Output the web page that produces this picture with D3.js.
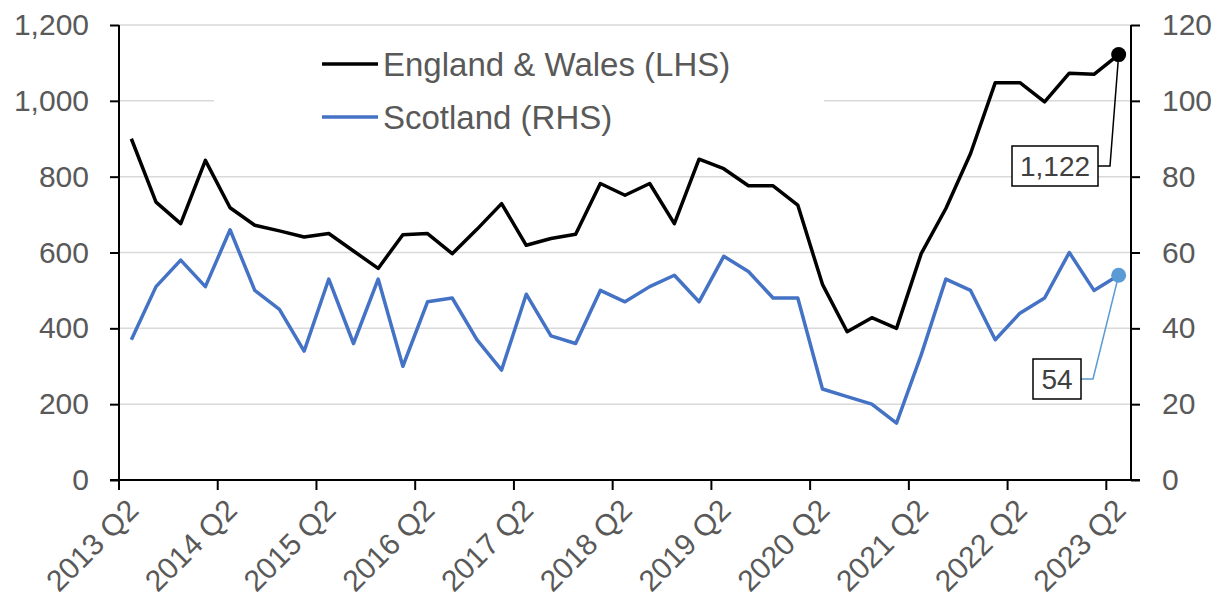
<!DOCTYPE html>
<html>
<head>
<meta charset="utf-8">
<script src="https://cdn.jsdelivr.net/npm/d3@7"></script>
<style>
body{margin:0;background:#fff;}
text{font-family:"Liberation Sans",Arial,sans-serif;}
</style>
</head>
<body>
<svg id="chart" width="1221" height="599"></svg>
<script>
// quarterly categories
var quarters = ["2013 Q2","2013 Q3","2013 Q4","2014 Q1","2014 Q2","2014 Q3","2014 Q4","2015 Q1",
  "2015 Q2","2015 Q3","2015 Q4","2016 Q1","2016 Q2","2016 Q3","2016 Q4","2017 Q1",
  "2017 Q2","2017 Q3","2017 Q4","2018 Q1","2018 Q2","2018 Q3","2018 Q4","2019 Q1",
  "2019 Q2","2019 Q3","2019 Q4","2020 Q1","2020 Q2","2020 Q3","2020 Q4","2021 Q1",
  "2021 Q2","2021 Q3","2021 Q4","2022 Q1","2022 Q2","2022 Q3","2022 Q4","2023 Q1","2023 Q2"];
var englandWales = [900,733,676,843,718,672,657,641,650,604,558,647,650,597,661,729,619,637,648,782,
  751,782,676,846,821,776,776,725,516,391,428,400,597,716,861,1048,1048,997,1073,1070,1122];
var scotland = [37,51,58,51,66,50,45,34,53,36,53,30,47,48,37,29,49,38,36,50,
  47,51,54,47,59,55,48,48,24,22,20,15,33,53,50,37,44,48,60,50,54];
var xLabels = ["2013 Q2","2014 Q2","2015 Q2","2016 Q2","2017 Q2","2018 Q2","2019 Q2",
  "2020 Q2","2021 Q2","2022 Q2","2023 Q2"];
var leftTicks = [0,200,400,600,800,1000,1200];
var rightTicks = [0,20,40,60,80,100,120];
var seriesNames = ["England & Wales (LHS)","Scotland (RHS)"];

function drawChart(){
  var svg = d3.select("#chart");
  var mLeft = 119, mRight = 1131, mTop = 25, mBottom = 480;
  var textCol = "#595959", gridCol = "#d9d9d9", blue = "#4472c4";

  var x = d3.scaleBand().domain(quarters).range([mLeft, mRight]).padding(0);
  var bw = x.bandwidth();
  var cx = function(q){ return x(q) + bw / 2; };
  var yL = d3.scaleLinear().domain([0, 1200]).range([mBottom, mTop]);
  var yR = d3.scaleLinear().domain([0, 120]).range([mBottom, mTop]);

  // gridlines
  svg.append("g").selectAll("line")
    .data(leftTicks.filter(function(d){ return d > 0; }))
    .enter().append("line")
    .attr("x1", mLeft).attr("x2", mRight)
    .attr("y1", function(d){ return yL(d); })
    .attr("y2", function(d){ return yL(d); })
    .attr("stroke", gridCol).attr("stroke-width", 1.5);

  // legend background (covers gridlines)
  svg.append("rect").attr("x", 214).attr("y", 34).attr("width", 610).attr("height", 116)
    .attr("fill", "#fff");

  var axL = svg.append("g").attr("transform", "translate(" + mLeft + ",0)")
    .call(d3.axisLeft(yL).tickValues(leftTicks).tickSize(9).tickPadding(21).tickFormat(d3.format(",")));
  var axR = svg.append("g").attr("transform", "translate(" + mRight + ",0)")
    .call(d3.axisRight(yR).tickValues(rightTicks).tickSize(9).tickPadding(22));
  var axB = svg.append("g").attr("transform", "translate(0," + mBottom + ")")
    .call(d3.axisBottom(x).tickValues(xLabels).tickSize(10).tickSizeOuter(0));
  axB.selectAll(".tick line").attr("x1", -bw / 2).attr("x2", -bw / 2);
  axB.selectAll(".tick text")
    .attr("text-anchor", "end")
    .attr("transform", "translate(-6,17) rotate(-45)")
    .attr("y", 0).attr("dy", "0.7em");

  [axL, axR, axB].forEach(function(a){
    a.select(".domain").attr("stroke", "#000").attr("stroke-width", 2);
    a.selectAll(".tick line").attr("stroke", "#000").attr("stroke-width", 2);
    a.selectAll(".tick text").attr("fill", textCol).style("font-size", "30px")
      .style("font-family", "'Liberation Sans', Arial, sans-serif");
  });
  axL.select(".domain").attr("d", "M0," + mTop + "V" + mBottom);
  axR.select(".domain").attr("d", "M0," + mTop + "V" + mBottom);
  axB.select(".domain").attr("d", "M" + (mLeft - 9) + ",0H" + (mRight + 9));

  // lines
  var lineL = d3.line().x(function(d, i){ return cx(quarters[i]); }).y(function(d){ return yL(d); });
  var lineR = d3.line().x(function(d, i){ return cx(quarters[i]); }).y(function(d){ return yR(d); });

  svg.append("path").datum(scotland).attr("d", lineR)
    .attr("fill", "none").attr("stroke", blue).attr("stroke-width", 3.5).attr("stroke-linejoin", "round");
  svg.append("path").datum(englandWales).attr("d", lineL)
    .attr("fill", "none").attr("stroke", "#000").attr("stroke-width", 3.5).attr("stroke-linejoin", "round");

  // last point callouts
  var last = quarters.length - 1;
  var px = cx(quarters[last]);
  var pyE = yL(englandWales[last]), pyS = yR(scotland[last]);

  function callout(py, boxX, boxY, boxW, boxH, txt, col, dotCol){
    var midY = boxY + boxH / 2;
    svg.append("path")
      .attr("d", "M" + (boxX + boxW) + "," + midY + "H" + (boxX + boxW + 12) + "L" + px + "," + py)
      .attr("fill", "none").attr("stroke", col).attr("stroke-width", 1.5);
    svg.append("rect").attr("x", boxX).attr("y", boxY).attr("width", boxW).attr("height", boxH)
      .attr("fill", "#fff").attr("stroke", "#000").attr("stroke-width", 1.5);
    svg.append("text").attr("x", boxX + boxW / 2).attr("y", midY).attr("dy", "0.35em")
      .attr("text-anchor", "middle").attr("fill", "#404040").style("font-size", "28px").text(txt);
    svg.append("circle").attr("cx", px).attr("cy", py).attr("r", 7.5).attr("fill", dotCol);
  }
  callout(pyE, 1012, 146, 86, 40, d3.format(",")(englandWales[last]), "#000", "#000");
  callout(pyS, 1033, 359, 48, 40, scotland[last], "#5b9bd5", "#5b9bd5");

  // legend
  var leg = svg.append("g");
  [["#000", 64], [blue, 117]].forEach(function(s, i){
    leg.append("line").attr("x1", 322).attr("x2", 378).attr("y1", s[1]).attr("y2", s[1])
      .attr("stroke", s[0]).attr("stroke-width", 3.5);
    leg.append("text").attr("x", 383).attr("y", s[1]).attr("dy", "0.35em")
      .attr("fill", textCol).style("font-size", "33px").text(seriesNames[i]);
  });
}

drawChart();
</script>
</body>
</html>
